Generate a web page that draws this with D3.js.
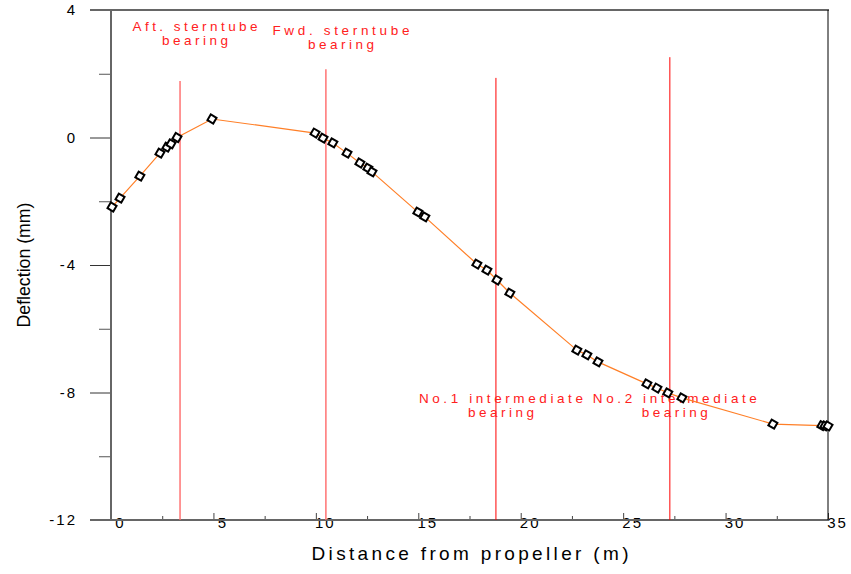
<!DOCTYPE html>
<html>
<head>
<meta charset="utf-8">
<script src="https://cdn.jsdelivr.net/npm/d3@7"></script>
<style>
  body { margin: 0; background: #fff; }
  svg { display: block; }
  text { font-family: "Liberation Sans", Arial, sans-serif; }
</style>
</head>
<body>
<svg id="board" width="851" height="574"></svg>
<script>
// distance from propeller (m) and deflection (mm) of the measured points
let distance = [0.05, 0.44, 1.41, 2.39, 2.73, 2.93, 3.22, 4.93,
    9.96, 10.35, 10.83, 11.52, 12.15, 12.54, 12.74,
    14.98, 15.32, 17.86, 18.35, 18.84, 19.47,
    22.74, 23.23, 23.77, 26.16, 26.65, 27.18, 27.87,
    32.31, 34.7, 34.85, 35.0]
let deflection = [-2.18, -1.9, -1.21, -0.49, -0.3, -0.2, 0.0, 0.58,
    0.14, -0.02, -0.17, -0.49, -0.8, -0.96, -1.08,
    -2.34, -2.49, -3.97, -4.16, -4.47, -4.88,
    -6.67, -6.82, -7.04, -7.73, -7.86, -8.01, -8.17,
    -8.99, -9.04, -9.05, -9.05]

// bearings: position, top of the marker line, label
let bearingPos = [3.37, 10.49, 18.79, 27.28]
let bearingTop = [1.77, 2.14, 1.87, 2.52]
let bearingName = ['Aft. sterntube', 'Fwd. sterntube', 'No.1 intermediate', 'No.2 intermediate']
let bearingSub = ['bearing', 'bearing', 'bearing', 'bearing']

let xTicks = [0, 5, 10, 15, 20, 25, 30, 35]
let xMinor = [2.5, 7.5, 12.5, 17.5, 22.5, 27.5, 32.5]
let yTicks = [-12, -8, -4, 0, 4]
let yMinor = [-10, -6, -2, 2]

let board = d3.select('#board')

let x = d3.scaleLinear().domain([0, 35]).range([111, 828])
let y = d3.scaleLinear().domain([-12, 4]).range([520, 10])

// minor ticks
board.append('g')
    .attr('transform', 'translate(111,0)')
    .call(d3.axisLeft(y).tickValues(yMinor).tickSize(12).tickFormat(''))
    .call(g => g.select('.domain').remove())
    .selectAll('line').attr('stroke', '#555')

board.append('g')
    .attr('transform', 'translate(0,520)')
    .call(d3.axisBottom(x).tickValues(xMinor).tickSize(-4).tickFormat(''))
    .call(g => g.select('.domain').remove())
    .selectAll('line').attr('stroke', '#444')

// major ticks with labels
let yAxis = board.append('g')
    .attr('transform', 'translate(111,0)')
    .call(d3.axisLeft(y).tickValues(yTicks).tickSize(21).tickPadding(13).tickFormat(d3.format('d')))
yAxis.select('.domain').remove()
yAxis.selectAll('line').attr('stroke', '#333')
yAxis.selectAll('text')
    .attr('font-size', 15)
    .attr('letter-spacing', 2)
    .attr('fill', '#000')
    .text(d => d < 0 ? '-' + Math.abs(d) : d)

let xAxis = board.append('g')
    .attr('transform', 'translate(0,520)')
    .call(d3.axisBottom(x).tickValues(xTicks).tickSize(-7).tickFormat(d3.format('d')))
xAxis.select('.domain').remove()
xAxis.selectAll('line').attr('stroke', '#444')
xAxis.selectAll('text')
    .attr('font-size', 15)
    .attr('letter-spacing', 2)
    .attr('fill', '#000')
    .attr('x', 9)
    .attr('y', -3)
    .attr('dy', '0.71em')

// frame
let frame = board.append('g')
frame.append('line').attr('x1', 90).attr('x2', 829).attr('y1', y(4)).attr('y2', y(4))
    .attr('stroke', '#666').attr('stroke-width', 2)
frame.append('line').attr('x1', 90).attr('x2', 829).attr('y1', y(-12)).attr('y2', y(-12))
    .attr('stroke', '#666').attr('stroke-width', 2)
frame.append('line').attr('x1', x(0)).attr('x2', x(0)).attr('y1', y(4)).attr('y2', y(-12))
    .attr('stroke', '#666').attr('stroke-width', 2)
frame.append('line').attr('x1', x(35)).attr('x2', x(35)).attr('y1', y(4)).attr('y2', y(-12))
    .attr('stroke', '#000').attr('stroke-width', 1)

// bearing lines
board.append('g').selectAll('line')
    .data(bearingPos)
    .enter()
    .append('line')
    .attr('x1', d => x(d))
    .attr('x2', d => x(d))
    .attr('y1', (d, i) => y(bearingTop[i]))
    .attr('y2', y(-12))
    .attr('stroke', (d, i) => i < 2 ? '#ff6a6a' : '#ff0000')
    .attr('stroke-width', (d, i) => i < 2 ? 1.4 : 1)

// bearing labels
let labelY = [31, 35, 403, 403]
let labelW = [125, 137, 164, 164]
let labels = board.append('g')
bearingName.forEach((name, i) => {
    labels.append('text')
        .attr('x', x(bearingPos[i]) + (i < 2 ? 15 : 5))
        .attr('y', labelY[i])
        .attr('text-anchor', 'middle')
        .attr('font-size', 13.5)
        .attr('fill', '#ff2020')
        .attr('textLength', labelW[i])
        .attr('lengthAdjust', 'spacing')
        .text(name)
    labels.append('text')
        .attr('x', x(bearingPos[i]) + (i < 2 ? 15 : 5))
        .attr('y', labelY[i] + 14)
        .attr('text-anchor', 'middle')
        .attr('font-size', 13.5)
        .attr('fill', '#ff2020')
        .attr('textLength', 66)
        .attr('lengthAdjust', 'spacing')
        .text(bearingSub[i])
})

// deflection line
let points = distance.map((d, i) => [d, deflection[i]])
board.append('path')
    .datum(points)
    .attr('fill', 'none')
    .attr('stroke', '#ff7f27')
    .attr('stroke-width', 1.2)
    .attr('d', d3.line().x(d => x(d[0])).y(d => y(d[1])))

// markers
board.append('g').selectAll('path')
    .data(points)
    .enter()
    .append('path')
    .attr('transform', d => 'translate(' + x(d[0]) + ',' + y(d[1]) + ') rotate(30)')
    .attr('d', d3.symbol().type(d3.symbolSquare).size(44))
    .attr('fill', '#fff')
    .attr('stroke', '#000')
    .attr('stroke-width', 2)

// axis titles
board.append('text')
    .attr('x', 470)
    .attr('y', 560)
    .attr('text-anchor', 'middle')
    .attr('font-size', 19)
    .attr('textLength', 317)
    .attr('lengthAdjust', 'spacing')
    .text('Distance from propeller (m)')

board.append('text')
    .attr('transform', 'translate(30,265) rotate(-90)')
    .attr('text-anchor', 'middle')
    .attr('font-size', 18)
    .attr('textLength', 125)
    .attr('lengthAdjust', 'spacingAndGlyphs')
    .text('Deflection (mm)')
</script>
</body>
</html>
